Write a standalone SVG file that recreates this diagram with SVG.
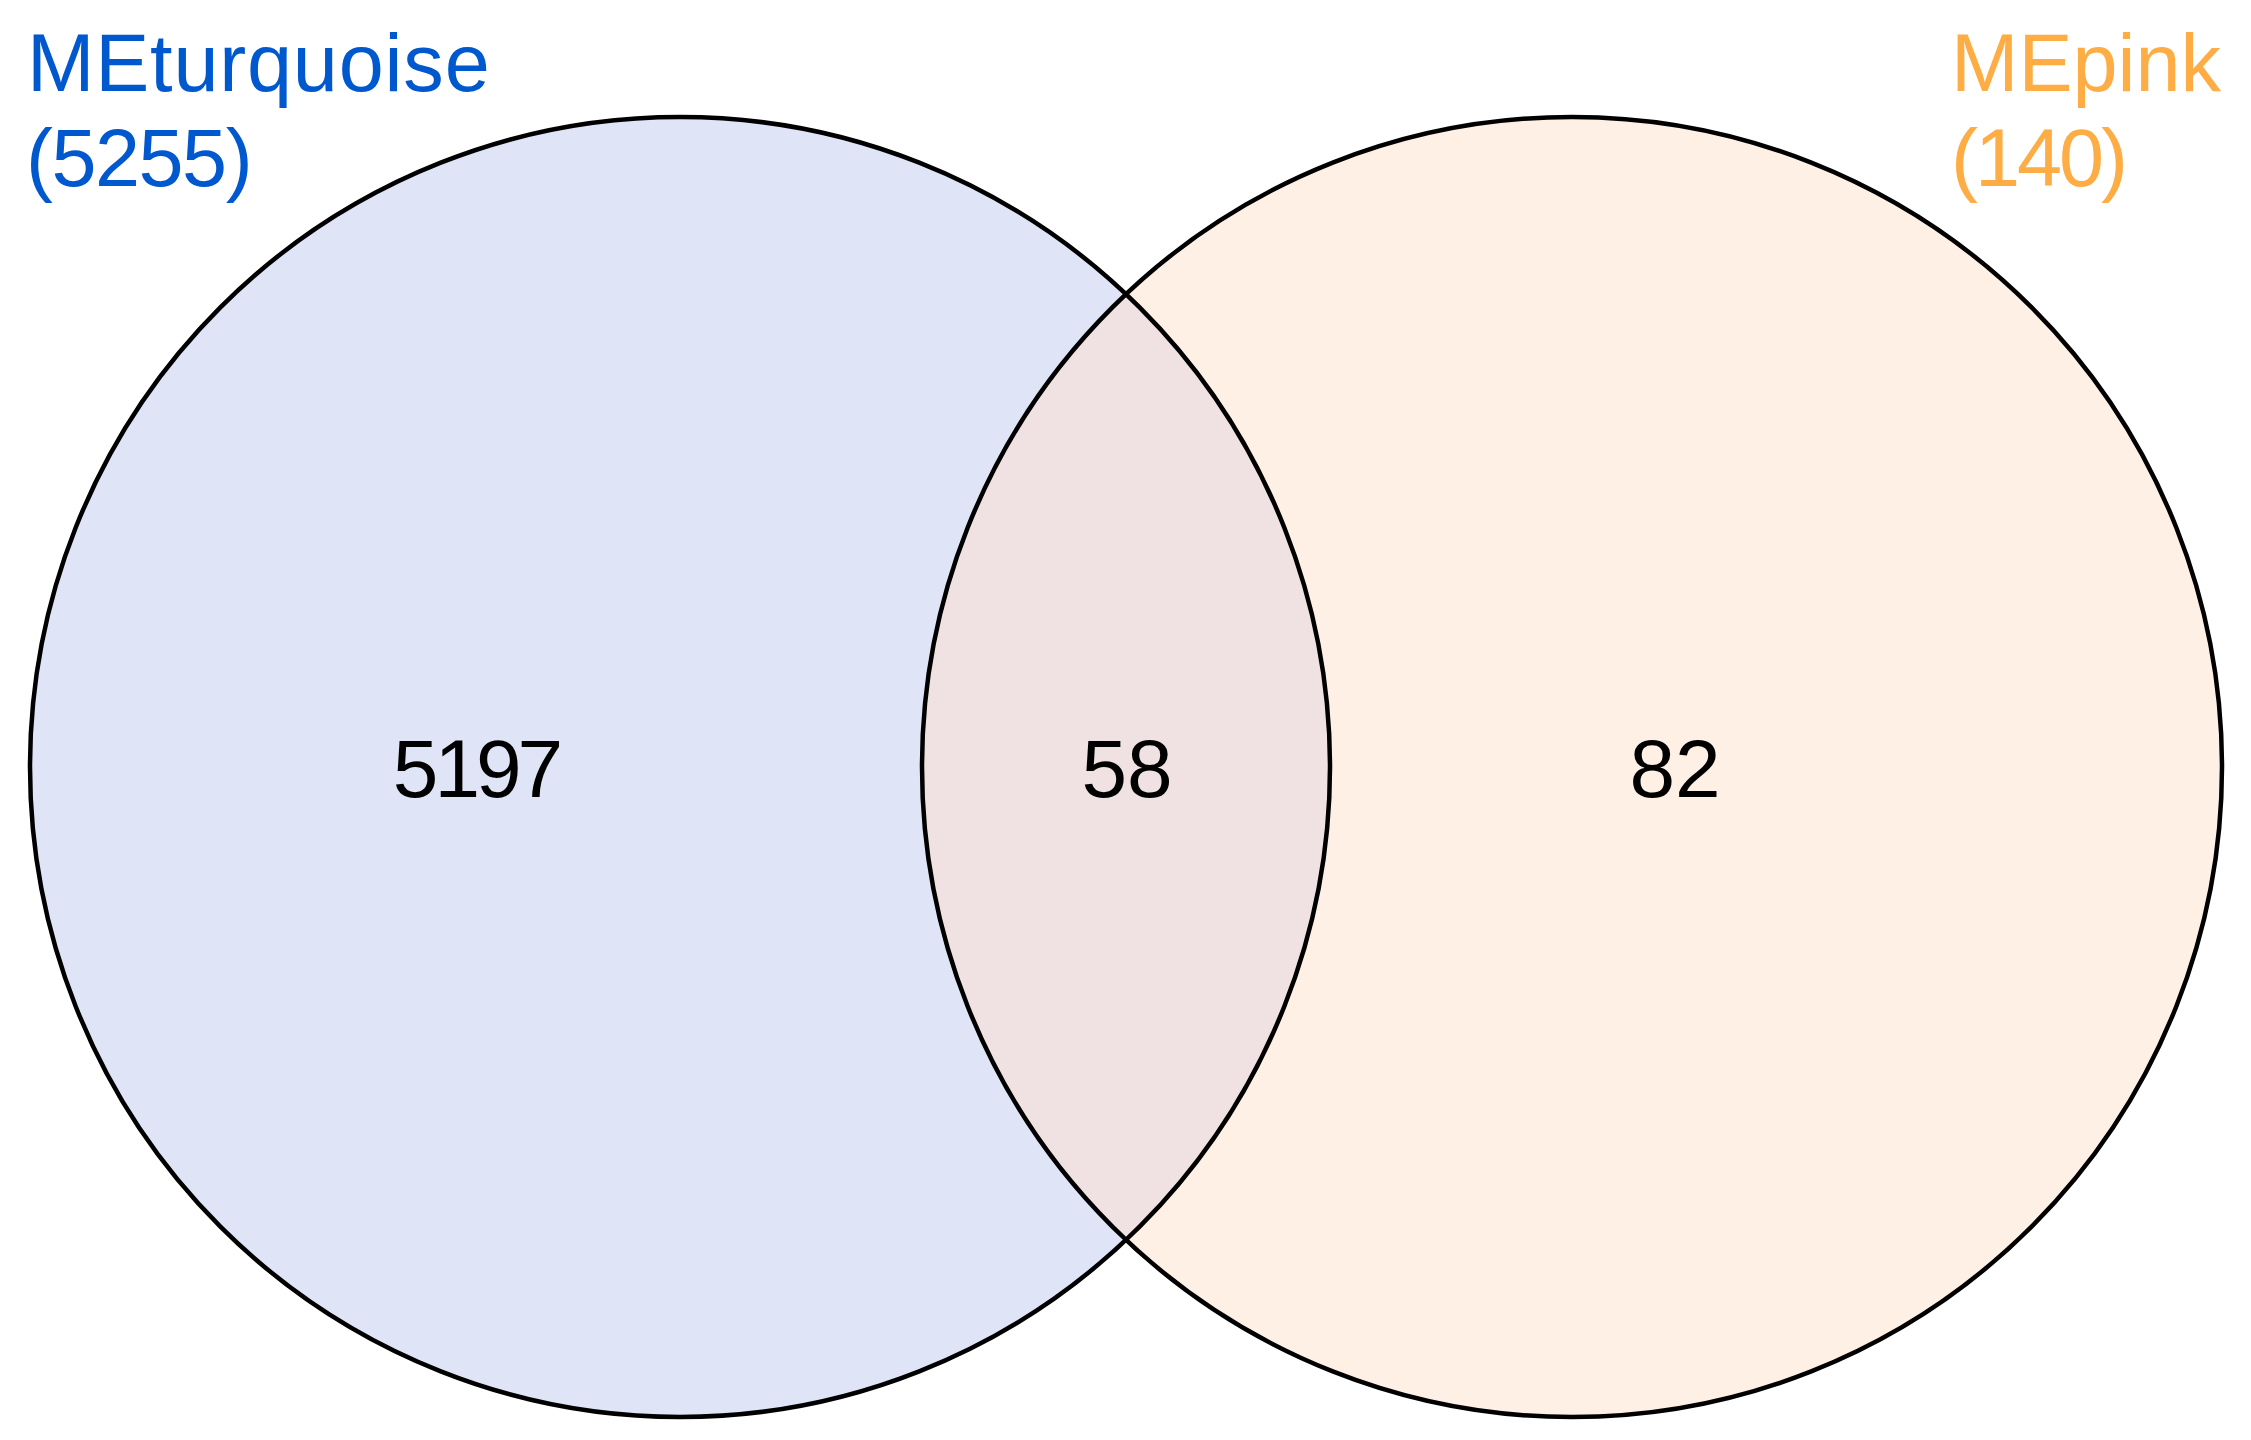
<svg xmlns="http://www.w3.org/2000/svg" width="2251" height="1440" viewBox="0 0 2251 1440">
  <style>
    .lbl { font-family: "Liberation Sans", Arial, sans-serif; font-size: 81px; }
    .blue { fill: #0058CF; }
    .orange { fill: #FEAD45; }
    .num { font-family: "Liberation Sans", Arial, sans-serif; font-size: 82px; fill: #000000; text-anchor: middle; }
    .ring { fill: none; stroke: #000000; stroke-width: 4.5; }
  </style>
  <defs>
    <clipPath id="clipLeft">
      <circle cx="680" cy="767" r="650"/>
    </clipPath>
  </defs>
  <rect x="0" y="0" width="2251" height="1440" fill="#FFFFFF"/>
  <g id="set-meturquoise">
    <circle cx="680" cy="767" r="650" fill="#DFE4F6"/>
  </g>
  <g id="set-mepink">
    <circle cx="1572" cy="767" r="650" fill="#FFF0E6"/>
  </g>
  <g id="intersection">
    <circle cx="1572" cy="767" r="650" fill="#F0E2E2" clip-path="url(#clipLeft)"/>
  </g>
  <g id="outlines">
    <circle class="ring" cx="680" cy="767" r="650"/>
    <circle class="ring" cx="1572" cy="767" r="650"/>
  </g>
  <g id="labels">
    <text class="lbl blue" x="27" y="91" letter-spacing="0.8">MEturquoise</text>
    <text class="lbl blue" x="26" y="186" letter-spacing="-1.5">(5255)</text>
    <text class="lbl orange" x="1951" y="91">MEpink</text>
    <text class="lbl orange" x="1951" y="186" letter-spacing="-3">(140)</text>
  </g>
  <g id="counts">
    <text class="num" x="476" y="797" letter-spacing="-4">5197</text>
    <text class="num" x="1127" y="797">58</text>
    <text class="num" x="1675" y="797">82</text>
  </g>
</svg>
